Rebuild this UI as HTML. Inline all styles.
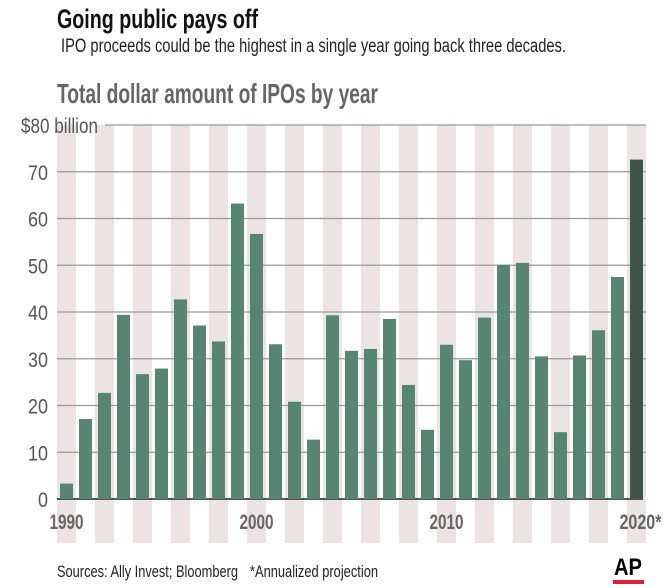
<!DOCTYPE html>
<html><head><meta charset="utf-8">
<style>
html,body{margin:0;padding:0;background:#fff;width:670px;height:588px;overflow:hidden}
svg text{font-family:"Liberation Sans Narrow","Liberation Sans",sans-serif}
</style></head>
<body>
<svg id="chart" width="670" height="588" viewBox="0 0 670 588" xmlns="http://www.w3.org/2000/svg">
<text x="57" y="28" font-size="27" font-weight="bold" fill="#111" textLength="201" lengthAdjust="spacingAndGlyphs">Going public pays off</text>
<text x="61" y="52" font-size="19" fill="#222" textLength="505" lengthAdjust="spacingAndGlyphs">IPO proceeds could be the highest in a single year going back three decades.</text>
<text x="57" y="103" font-size="28" font-weight="bold" fill="#666" textLength="321" lengthAdjust="spacingAndGlyphs">Total dollar amount of IPOs by year</text>
<g id="stripes"></g>
<g id="grid"></g>
<g id="bars"></g>
<g id="xlabels"></g>
<text x="57" y="577" font-size="17" fill="#222" textLength="181" lengthAdjust="spacingAndGlyphs">Sources: Ally Invest; Bloomberg</text>
<text x="250" y="577" font-size="17" fill="#222" textLength="128" lengthAdjust="spacingAndGlyphs">*Annualized projection</text>
<text x="628" y="575" font-size="24" font-weight="bold" fill="#000" text-anchor="middle" textLength="28" lengthAdjust="spacingAndGlyphs">AP</text>
<rect x="613" y="580" width="31" height="4" fill="#e0203a"/>
</svg>
<script>
const years=[1990,1991,1992,1993,1994,1995,1996,1997,1998,1999,2000,2001,2002,2003,2004,2005,2006,2007,2008,2009,2010,2011,2012,2013,2014,2015,2016,2017,2018,2019,2020];
const values=[3.3,17.1,22.7,39.4,26.7,27.9,42.7,37.1,33.7,63.2,56.7,33.1,20.8,12.7,39.3,31.7,32.1,38.5,24.4,14.8,33.0,29.7,38.8,50.1,50.5,30.5,14.3,30.7,36.1,47.5,72.6];
const yTicks=[0,10,20,30,40,50,60,70,80];
const xTickLabels=["1990","2000","2010","2020*"];
const xTickYears=[1990,2000,2010,2020];

const NS="http://www.w3.org/2000/svg";
const y0=499,yTop=125,yMax=80;
const yS=v=>y0-(v/yMax)*(y0-yTop);
const x0=60,pitch=19,bw=13;
const xS=yr=>x0+(yr-years[0])*pitch;
function mk(t,a,parent){const e=document.createElementNS(NS,t);for(const k in a)e.setAttribute(k,a[k]);parent.appendChild(e);return e;}

const sg=document.getElementById('stripes');
years.forEach((yr,i)=>{if(i%2===0){
 const r=mk('rect',{x:xS(yr)-3,y:yTop,width:19,height:543-yTop,fill:'#ece4e4'},sg);
 
 
}});

const gg=document.getElementById('grid');
yTicks.forEach(t=>{
 const y=yS(t);
 const startX=t===80?105:57;
 const l=mk('line',{x1:startX,x2:t===0?643:646,y1:y,y2:y,stroke:t===0?'#222':'#999','stroke-width':t===0?1.6:1.2},gg);
 
 
 const attrs={x:t===80?21:48,y:y+8,'font-size':21,fill:'#555','text-anchor':t===80?'start':'end'};
 const label=t===80?'$80 billion':String(t);
 attrs.textLength=t===80?77:(label.length===1?10:20);
 attrs.lengthAdjust='spacingAndGlyphs';
 const tx=mk('text',attrs,gg);
 tx.textContent=label;
 
 
});

const bg=document.getElementById('bars');
years.forEach((yr,i)=>{
 const v=values[i];
 const r=mk('rect',{x:xS(yr),y:yS(v),width:bw,height:y0-yS(v),fill:i===years.length-1?'#3f554b':'#568574'},bg);
 
 
});

const xg=document.getElementById('xlabels');
xTickYears.forEach((yr,i)=>{
 const tx=mk('text',{x:xS(yr)+bw/2+(i===3?4:0),y:529,'font-size':21,'font-weight':'bold',fill:'#666','text-anchor':'middle',textLength:i===3?42:34,lengthAdjust:'spacingAndGlyphs'},xg);
 tx.textContent=xTickLabels[i];
 
 
});
</script>
</body></html>
